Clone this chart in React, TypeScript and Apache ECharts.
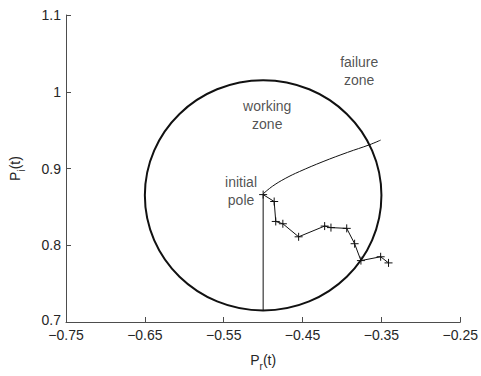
import React, { useEffect, useRef } from "react";
import * as echarts from "echarts";

const xTicks = { min: -0.75, max: -0.25, interval: 0.1 };
const yTicks = { min: 0.7, max: 1.1, interval: 0.1 };

const circleCenterRadius = [[-0.5, 0.865, 0.15]];

const poleToBottom = [
  [-0.5, 0.866],
  [-0.5, 0.715],
];

const failureCurve = [
  [-0.5, 0.867],
  [-0.488, 0.877],
  [-0.472, 0.887],
  [-0.454, 0.896],
  [-0.424, 0.909],
  [-0.393, 0.921],
  [-0.365, 0.931],
  [-0.351, 0.937],
];

const trajectory = [
  [-0.5, 0.866],
  [-0.486, 0.857],
  [-0.484, 0.831],
  [-0.475, 0.828],
  [-0.455, 0.811],
  [-0.422, 0.825],
  [-0.414, 0.823],
  [-0.394, 0.822],
  [-0.384, 0.802],
  [-0.376, 0.78],
  [-0.351, 0.785],
  [-0.341, 0.777],
];

const annotations = [
  { value: [-0.4948, 0.97], text: "working\nzone" },
  { value: [-0.3782, 1.0274], text: "failure\nzone" },
  { value: [-0.528, 0.8707], text: "initial\npole" },
];

const FONT = "'Liberation Sans', Arial, Helvetica, sans-serif";
const TEXT = "#262626";
const AXIS = "#4d4d4d";

export default function App() {
  const ref = useRef<HTMLDivElement>(null);
  useEffect(() => {
    if (!ref.current) return;
    const chart = echarts.init(ref.current, undefined, { renderer: "svg" });
    const rich = {
      a: { fontSize: 14, color: TEXT, fontFamily: FONT, lineHeight: 22, verticalAlign: "middle" },
      b: { fontSize: 10, color: TEXT, fontFamily: FONT, lineHeight: 22, verticalAlign: "bottom" },
    };
    chart.setOption({
      animation: false,
      backgroundColor: "#fff",
      textStyle: { fontFamily: FONT },
      grid: { left: 59, right: 15, top: 15, bottom: 47, containLabel: false },
      xAxis: {
        type: "value",
        min: xTicks.min,
        max: xTicks.max,
        interval: xTicks.interval,
        name: "{a|P}{b|r}{a|(t)}",
        nameLocation: "middle",
        nameGap: 27,
        nameTextStyle: { rich },
        axisLine: { onZero: false, lineStyle: { color: AXIS, width: 1 } },
        axisTick: { inside: true, length: 5, lineStyle: { color: AXIS } },
        axisLabel: {
          margin: 6,
          fontSize: 14,
          lineHeight: 14,
          color: TEXT,
          fontFamily: FONT,
          showMinLabel: true,
          showMaxLabel: true,
          formatter: (v: number) => v.toFixed(2).replace("-", "\u2212"),
        },
        splitLine: { show: false },
      },
      yAxis: {
        type: "value",
        min: yTicks.min,
        max: yTicks.max,
        interval: yTicks.interval,
        name: "{a|P}{b|i}{a|(t)}",
        nameLocation: "middle",
        nameRotate: 90,
        nameGap: 40,
        nameTextStyle: { rich },
        axisLine: { onZero: false, lineStyle: { color: AXIS, width: 1 } },
        axisTick: { inside: true, length: 5, lineStyle: { color: AXIS } },
        axisLabel: {
          margin: 5,
          fontSize: 14,
          lineHeight: 14,
          color: TEXT,
          fontFamily: FONT,
          showMinLabel: true,
          showMaxLabel: true,
          formatter: (v: number) => {
            const s = String(parseFloat(v.toFixed(1)));
            return Math.abs(v - yTicks.min) < 1e-9 ? "{lo|" + s + "}" : s;
          },
          rich: {
            lo: { fontSize: 14, lineHeight: 14, color: TEXT, fontFamily: FONT, padding: [0, 0, 4, 0] },
          },
        },
        splitLine: { show: false },
      },
      series: [
        {
          type: "custom",
          silent: true,
          data: circleCenterRadius,
          encode: { x: 0, y: 1 },
          renderItem: (params: any, api: any) => {
            const c = api.coord([api.value(0), api.value(1)]);
            const s = api.size([api.value(2), api.value(2)]);
            return {
              type: "ellipse",
              shape: { cx: c[0], cy: c[1], rx: s[0], ry: s[1] },
              style: { fill: "none", stroke: "#111", lineWidth: 2 },
            };
          },
        },
        {
          type: "line",
          data: poleToBottom,
          showSymbol: false,
          symbol: "none",
          lineStyle: { color: "#111", width: 1 },
          silent: true,
        },
        {
          type: "line",
          data: failureCurve,
          showSymbol: false,
          symbol: "none",
          smooth: 0.4,
          lineStyle: { color: "#111", width: 1 },
          silent: true,
        },
        {
          type: "line",
          data: trajectory,
          symbol: "path://M0,-1 L0,1 M-1,0 L1,0",
          symbolSize: 8,
          showAllSymbol: true,
          itemStyle: { color: "none", borderColor: "#111", borderWidth: 1 },
          lineStyle: { color: "#111", width: 1 },
          silent: true,
        },
        {
          type: "scatter",
          symbolSize: 0,
          silent: true,
          data: annotations.map((a) => ({ value: a.value, name: a.text })),
          label: {
            show: true,
            position: "inside",
            formatter: (p: any) => p.name,
            fontSize: 14,
            lineHeight: 18,
            color: TEXT,
            fontFamily: FONT,
            align: "center",
          },
        },
      ],
    });
    return () => chart.dispose();
  }, []);
  return (
    <div
      ref={ref}
      style={{ position: "fixed", left: 0, top: 0, width: 481, height: 376, background: "#fff" }}
    />
  );
}
